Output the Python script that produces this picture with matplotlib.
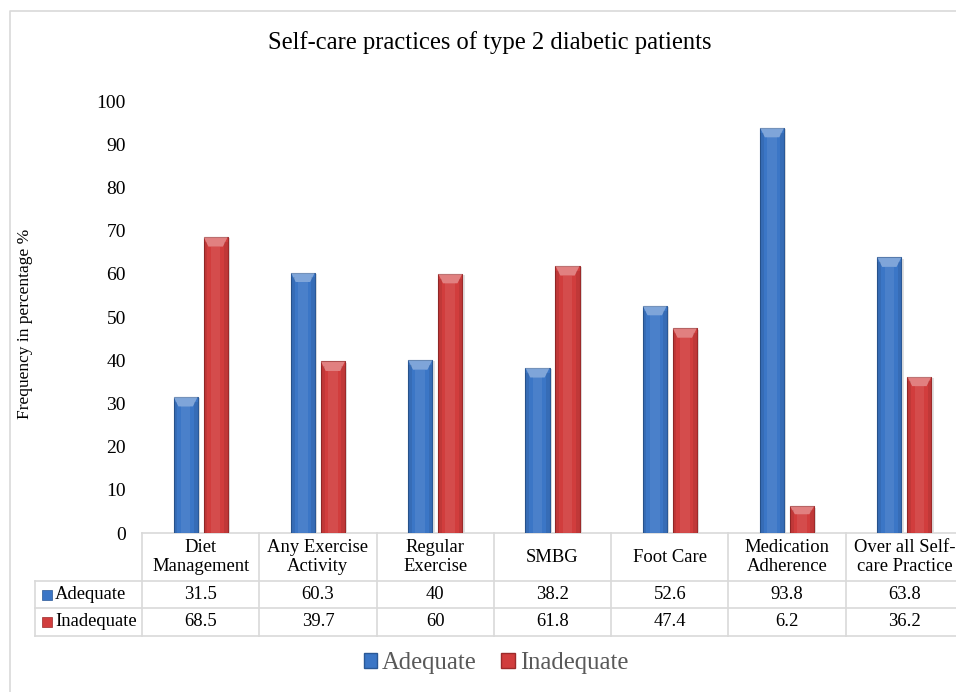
import matplotlib.pyplot as plt
import matplotlib.patches as mpatches
from matplotlib.lines import Line2D
from matplotlib.transforms import blended_transform_factory
import numpy as np

# ── Data ─────────────────────────────────────────────
categories = ["Diet\nManagement", "Any Exercise\nActivity", "Regular\nExercise",
              "SMBG", "Foot Care", "Medication\nAdherence", "Over all Self-\ncare Practice"]
adequate = [31.5, 60.3, 40, 38.2, 52.6, 93.8, 63.8]
inadequate = [68.5, 39.7, 60, 61.8, 47.4, 6.2, 36.2]
adequate_labels = ["31.5", "60.3", "40", "38.2", "52.6", "93.8", "63.8"]
inadequate_labels = ["68.5", "39.7", "60", "61.8", "47.4", "6.2", "36.2"]
yticks = [0, 10, 20, 30, 40, 50, 60, 70, 80, 90, 100]

BLUE = "#3b76c6"
BLUE_EDGE = "#2a5896"
RED = "#d13d3d"
RED_EDGE = "#9c2a2a"
GRID = "#d9d9d9"
FS = 13.4

plt.rcParams["font.family"] = ["Liberation Serif", "DejaVu Serif"]

W, H = 956, 692
fig = plt.figure(figsize=(W / 100, H / 100), dpi=100)

# outer frame (only top and left edges show in the crop)
fig.lines.append(Line2D([10 / W, 10 / W, 1.0], [0, (H - 11) / H, (H - 11) / H],
                        transform=fig.transFigure, color=GRID, linewidth=1.2))

ax_left, ax_right, ax_top, ax_bottom = 142, 963, 101, 533
ax = fig.add_axes([ax_left / W, (H - ax_bottom) / H,
                   (ax_right - ax_left) / W, (ax_bottom - ax_top) / H])

x = np.arange(len(categories))
bw = 0.205
off = 0.128


def draw_bars(xs, vals, color, edge):
    bars = ax.bar(xs, vals, bw, color=color, edgecolor=edge, linewidth=0.8, zorder=3)
    for b in bars:
        bx, bwid, bh = b.get_x(), b.get_width(), b.get_height()
        # soft shadow
        ax.add_patch(mpatches.Rectangle((bx + 0.02, 0), bwid, bh - 0.3,
                                        facecolor="#000000", alpha=0.12, zorder=2, linewidth=0))
        # bevel highlight on top
        cap = min(2.2, bh * 0.3)
        ax.add_patch(mpatches.Polygon([[bx, bh], [bx + bwid, bh],
                                       [bx + bwid * 0.8, bh - cap], [bx + bwid * 0.2, bh - cap]],
                                      closed=True, facecolor="white", alpha=0.35,
                                      linewidth=0, zorder=4))
        # darker sides
        for sx in (bx, bx + bwid * 0.85):
            ax.add_patch(mpatches.Rectangle((sx, 0), bwid * 0.15, bh - cap * 0.5,
                                            facecolor="black", alpha=0.08, linewidth=0, zorder=4))
        # center highlight stripe
        ax.add_patch(mpatches.Rectangle((bx + bwid * 0.3, 0), bwid * 0.4, bh - cap,
                                        facecolor="white", alpha=0.08, linewidth=0, zorder=4))
    return bars


draw_bars(x - off, adequate, BLUE, BLUE_EDGE)
draw_bars(x + off, inadequate, RED, RED_EDGE)

ax.set_xlim(-0.5, len(categories) - 0.5)
ax.set_ylim(0, 100)
ax.set_yticks(yticks)
ax.set_yticklabels([str(t) for t in yticks], fontsize=14)
ax.tick_params(axis="y", length=0, pad=11.5)
ax.set_xticks([])
for s in ax.spines.values():
    s.set_visible(False)

fig.text(25 / W, (H - 324) / H, "Frequency in percentage %", rotation=90,
         ha="center", va="center", fontsize=12.5)
fig.text(490 / W, (H - 43) / H, "Self-care practices of type 2 diabetic patients",
         ha="center", va="center", fontsize=17.7)

# ── Data table under the axis ─────────────────────────
trans = blended_transform_factory(ax.transData, ax.transAxes)
axh = ax_bottom - ax_top


def ypx(p):
    return (ax_bottom - p) / axh


rows_px = [533, 581, 608, 636]
table_left = -0.5 - (ax_left - 35) / ((ax_right - ax_left) / len(categories))
n = len(categories)

ax.plot([-0.5, n - 0.5], [ypx(533)] * 2, color=GRID, lw=1.2, transform=trans, clip_on=False)
for p in rows_px[1:]:
    ax.plot([table_left, n - 0.5], [ypx(p)] * 2, color=GRID, lw=1.2, transform=trans, clip_on=False)
for i in range(n + 1):
    ax.plot([i - 0.5] * 2, [ypx(533), ypx(636)], color=GRID, lw=1.2, transform=trans, clip_on=False)
ax.plot([table_left] * 2, [ypx(581), ypx(636)], color=GRID, lw=1.2, transform=trans, clip_on=False)

for i, cat in enumerate(categories):
    ax.text(i, ypx(557), cat, ha="center", va="center", fontsize=FS,
            linespacing=1.18, transform=trans)
    ax.text(i, ypx(594.5), adequate_labels[i], ha="center", va="center", fontsize=FS,
            transform=trans)
    ax.text(i, ypx(622), inadequate_labels[i], ha="center", va="center", fontsize=FS,
            transform=trans)

# row labels with colour keys
for label, color, edge, yc in [("Adequate", BLUE, BLUE_EDGE, 594.5),
                               ("Inadequate", RED, RED_EDGE, 622)]:
    fig.patches.append(mpatches.Rectangle((42 / W, (H - yc - 5) / H), 10 / W, 10 / H,
                                          transform=fig.transFigure, facecolor=color,
                                          edgecolor=edge, linewidth=0.5))
    fig.text(55 / W, (H - yc) / H, label, ha="left", va="center", fontsize=FS)

# bottom legend
handles = [mpatches.Patch(facecolor=BLUE, edgecolor=BLUE_EDGE, label="Adequate"),
           mpatches.Patch(facecolor=RED, edgecolor=RED_EDGE, label="Inadequate")]
leg = fig.legend(handles=handles, loc="center", bbox_to_anchor=(496 / W, (H - 663) / H),
                 ncol=2, frameon=False, fontsize=17.7, handlelength=0.55, handleheight=0.55,
                 handletextpad=0.2, columnspacing=1.0)
for t in leg.get_texts():
    t.set_color("#595959")

fig.savefig("out.png", dpi=100)
